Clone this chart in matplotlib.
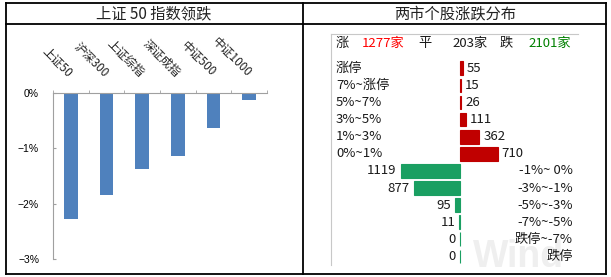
import matplotlib
matplotlib.use("Agg")
import matplotlib.pyplot as plt
from matplotlib.lines import Line2D

plt.rcParams['font.family'] = ['Noto Sans CJK SC', 'DejaVu Sans']

# ---- data ----
index_names = ["上证50", "沪深300", "上证综指", "深证成指", "中证500", "中证1000"]
index_changes = [-2.27, -1.85, -1.37, -1.13, -0.625, -0.12]
y_ticks = [0, -1, -2, -3]
y_tick_labels = ["0%", "−1%", "−2%", "−3%"]

up_labels = ["涨停", "7%~涨停", "5%~7%", "3%~5%", "1%~3%", "0%~1%"]
up_counts = [55, 15, 26, 111, 362, 710]
down_labels = ["-1%~ 0%", "-3%~-1%", "-5%~-3%", "-7%~-5%", "跌停~-7%", "跌停"]
down_counts = [1119, 877, 95, 11, 0, 0]
summary_up, summary_flat, summary_down = "1277家", "203家", "2101家"

title_left = "上证 50 指数领跌"
title_right = "两市个股涨跌分布"

W, H = 611, 277
fig = plt.figure(figsize=(W / 100, H / 100), dpi=100)

# overlay axes in pixel coordinates
ov = fig.add_axes([0, 0, 1, 1])
ov.set_xlim(0, W)
ov.set_ylim(H, 0)
ov.axis('off')
lw = 1.3
for seg in [((5.7, 606), (3, 3)), ((5.7, 606), (274, 274)), ((5.7, 5.7), (3, 274)),
            ((606, 606), (3, 274)), ((303, 303), (3, 274)), ((5.7, 606), (24, 24))]:
    ov.add_line(Line2D(seg[0], seg[1], color='black', lw=lw, zorder=5))
ov.text(154, 14, title_left, ha='center', va='center', fontsize=11, color='#222222')
ov.text(455, 14, title_right, ha='center', va='center', fontsize=11, color='#222222')
ov.text(518, 257, "Wind", ha='center', va='center', fontsize=27, color='#EFEFEF',
        fontweight='bold', family='Liberation Sans', zorder=0)

# ---- left bar chart ----
x0, x1, ytop, ybot = 53, 267, 93, 259
axL = fig.add_axes([x0 / W, 1 - ybot / H, (x1 - x0) / W, (ybot - ytop) / H])
pos = list(range(len(index_names)))
axL.bar(pos, index_changes, width=0.39, color='#4F81BD')
axL.set_xlim(-0.5, len(index_names) - 0.5)
axL.set_ylim(-3, 0)
axL.set_yticks(y_ticks)
axL.set_yticklabels(y_tick_labels, fontsize=7.5, family='Liberation Sans')
for s in ['right', 'bottom']:
    axL.spines[s].set_visible(False)
for s in ['left', 'top']:
    axL.spines[s].set_color('#A0A0A0')
axL.tick_params(axis='y', direction='in', length=2, color='#A0A0A0', pad=10)
axL.xaxis.tick_top()
axL.set_xticks(pos)
axL.set_xticklabels(index_names, rotation=-45, rotation_mode='anchor', ha='right',
                    va='center', fontsize=8.5, color='#222222')
axL.tick_params(axis='x', length=0, pad=13)
axL.set_xticks([p - 0.5 for p in pos] + [len(pos) - 0.5], minor=True)
axL.tick_params(axis='x', which='minor', direction='out', length=2, color='#A0A0A0')
axL.patch.set_alpha(0)

# ---- right distribution chart ----
rx0, rx1, rt, rb = 331, 578, 34, 265
zero_px, scale = 460, 0.053
row0, step = 68.3, 17.1
axR = fig.add_axes([rx0 / W, 1 - rb / H, (rx1 - rx0) / W, (rb - rt) / H])
axR.set_xlim(-(zero_px - rx0) / scale, (rx1 - zero_px) / scale)
axR.set_ylim((rb - row0) / step, (rt - row0) / step)
axR.patch.set_alpha(0)
for s in ['right', 'bottom']:
    axR.spines[s].set_visible(False)
for s in ['left', 'top']:
    axR.spines[s].set_color('#C8C8C8')
axR.set_xticks([])
axR.set_yticks([])

red, green = '#C00000', '#1A9F62'
tc = '#1a1a1a'
fs = 9.5
nu = len(up_counts)
up_rows = list(range(nu))
down_rows = [nu + i for i in range(len(down_counts))]
axR.barh(up_rows, up_counts, height=0.8, color=red, edgecolor=red, linewidth=0.8)
axR.barh(down_rows, [-c for c in down_counts], height=0.8, color=green, edgecolor=green, linewidth=0.8)
label_x = (336 - zero_px) / scale
right_x = (573 - zero_px) / scale
gap = 4 / scale
for r, lab, c in zip(up_rows, up_labels, up_counts):
    axR.text(label_x, r, lab, ha='left', va='center', fontsize=fs, color=tc)
    axR.text(c + gap, r, str(c), ha='left', va='center', fontsize=fs, color=tc)
for r, lab, c in zip(down_rows, down_labels, down_counts):
    axR.text(right_x, r, lab, ha='right', va='center', fontsize=fs, color=tc)
    axR.text(-c - gap, r, str(c), ha='right', va='center', fontsize=fs, color=tc)

hy = (43 - row0) / step
def hx(p):
    return (p - zero_px) / scale
axR.text(hx(336), hy, "涨", ha='left', va='center', fontsize=fs, color=tc)
axR.text(hx(362), hy, summary_up, ha='left', va='center', fontsize=fs, color='#FF0000')
axR.text(hx(418), hy, "平", ha='left', va='center', fontsize=fs, color=tc)
axR.text(hx(452), hy, summary_flat, ha='left', va='center', fontsize=fs, color=tc)
axR.text(hx(500), hy, "跌", ha='left', va='center', fontsize=fs, color=tc)
axR.text(hx(528), hy, summary_down, ha='left', va='center', fontsize=fs, color='#008000')

fig.savefig("out.png", dpi=100)
